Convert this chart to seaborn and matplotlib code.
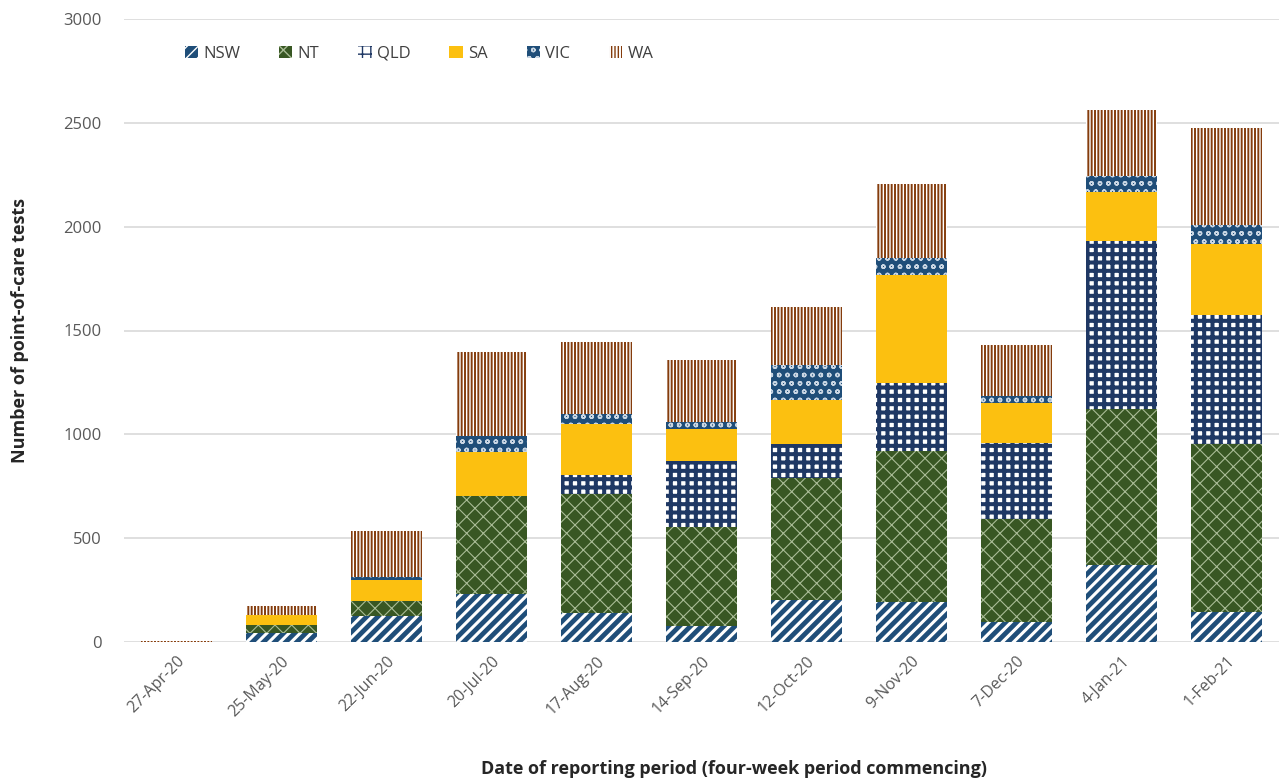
import matplotlib
matplotlib.use("Agg")
import matplotlib.pyplot as plt
from matplotlib.patches import Patch
import numpy as np
import pandas as pd
import seaborn as sns

# Four-week reporting periods
periods = ["27-Apr-20", "25-May-20", "22-Jun-20", "20-Jul-20", "17-Aug-20",
           "14-Sep-20", "12-Oct-20", "9-Nov-20", "7-Dec-20", "4-Jan-21", "1-Feb-21"]

# Point-of-care tests per jurisdiction
nsw = [0, 42, 125, 231, 141, 77, 202, 194, 98, 371, 146]
nt = [0, 40, 74, 473, 570, 478, 588, 726, 496, 752, 807]
qld = [0, 0, 0, 0, 91, 315, 163, 325, 362, 809, 621]
sa = [0, 46, 99, 211, 249, 154, 212, 522, 196, 237, 342]
vic = [0, 3, 15, 77, 48, 35, 170, 80, 32, 76, 92]
wa = [3, 42, 221, 404, 345, 297, 278, 360, 246, 316, 467]

states = ["NSW", "NT", "QLD", "SA", "VIC", "WA"]
series = [nsw, nt, qld, sa, vic, wa]

# face colour, hatch colour, hatch pattern, hatch line width
styles = {
    "NSW": ("#1F4E79", "white", "///", 2.2),
    "NT": ("#385723", "#A9BC96", "xx", 0.8),
    "QLD": ("white", "#1F3864", "++", 2.9),
    "SA": ("#FCC010", "#FCC010", "", 0.5),
    "VIC": ("#1F4E79", "#C9D6E3", "oo", 1.0),
    "WA": ("white", "#843C0C", "|||||", 1.4),
}

sns.set_theme(style="white")
plt.rcParams["font.family"] = ["Open Sans", "DejaVu Sans"]

fig = plt.figure(figsize=(12.79, 7.82), dpi=100)
ax = fig.add_axes([124 / 1279, (782 - 642) / 782, (1279 - 124) / 1279, (642 - 19) / 782])

values = np.array(series, dtype=float)
cum = np.cumsum(values, axis=0)

# Stack by overdrawing cumulative totals, from the top layer down
for i in range(len(states) - 1, -1, -1):
    name = states[i]
    face, hcol, hatch, hlw = styles[name]
    df = pd.DataFrame({"period": periods, "total": cum[i]})
    n_before = len(ax.patches)
    sns.barplot(data=df, x="period", y="total", color=face, saturation=1,
                width=0.667, errorbar=None, ax=ax, linewidth=0,
                edgecolor=hcol, hatch=hatch, zorder=2 + (len(states) - i))
    for p in ax.patches[n_before:]:
        p.set_facecolor(face)
        p.set_edgecolor(hcol)
        p.set_linewidth(0)
        if hasattr(p, "set_hatch_linewidth"):
            p.set_hatch_linewidth(hlw)

ax.set_ylim(0, 3000)
ax.set_xlim(-0.5, len(periods) - 0.5)
ax.set_yticks(np.arange(0, 3001, 500))
ax.yaxis.grid(True, color="#D9D9D9", linewidth=1.2)
ax.set_axisbelow(True)
for s in ax.spines.values():
    s.set_visible(False)

ax.tick_params(axis="both", length=0, labelsize=12, colors="#595959")
ax.tick_params(axis="y", pad=16)
ax.tick_params(axis="x", pad=8)
plt.setp(ax.get_xticklabels(), rotation=45, ha="right", rotation_mode="anchor",
         fontsize=11.5)

ax.set_xlabel("Date of reporting period (four-week period commencing)",
              fontsize=13, fontweight="bold", color="#262626")
ax.xaxis.set_label_coords((734 - 124) / 1155, (642 - 760) / 623)
ax.set_ylabel("Number of point-of-care tests", fontsize=13,
              fontweight="bold", color="#262626")
ax.yaxis.set_label_coords((29 - 124) / 1155, 0.5)

handles = []
for name in states:
    face, hcol, hatch, hlw = styles[name]
    h = Patch(facecolor=face, edgecolor=hcol, hatch=hatch, linewidth=0, label=name)
    if hasattr(h, "set_hatch_linewidth"):
        h.set_hatch_linewidth(hlw)
    handles.append(h)
leg = ax.legend(handles=handles, ncol=6, loc="upper left",
                bbox_to_anchor=((178 - 124) / 1155, 1 - (39 - 19) / 623),
                frameon=False, fontsize=12, handlelength=0.8, handleheight=0.8,
                handletextpad=0.3, columnspacing=2.35, borderaxespad=0)
for t in leg.get_texts():
    t.set_color("#404040")

fig.savefig("out.png", dpi=100)
